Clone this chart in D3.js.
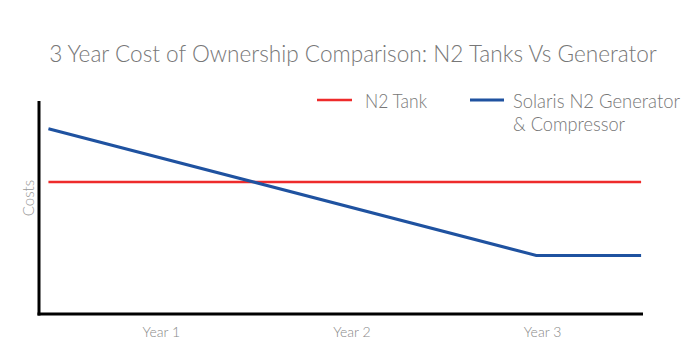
<!DOCTYPE html>
<html>
<head>
<meta charset="utf-8">
<script src="https://cdn.jsdelivr.net/npm/d3@7"></script>
<style>
  body { margin: 0; background: #fff; }
  text { font-family: Lato, "Open Sans", sans-serif; font-weight: 300; }
</style>
</head>
<body>
<svg id="chart" width="700" height="361"></svg>
<script>
// ---- data ----
const yearLabels = ["Year 1", "Year 2", "Year 3"];
const yearTicks = [1, 2, 3];
const tankX = [0.41, 3.52];
const tankCost = [62, 62];
const generatorX = [0.41, 2.97, 3.52];
const generatorCost = [87, 27.5, 27.5];
const seriesNames = ["N2 Tank", "Solaris N2 Generator", "& Compressor"];
const titleText = "3 Year Cost of Ownership Comparison: N2 Tanks Vs Generator";
const yLabel = "Costs";

// ---- layout ----
const svg = d3.select("#chart");
const x = d3.scaleLinear().domain([0.35, 3.53]).range([37, 643]);
const y = d3.scaleLinear().domain([0, 100]).range([314, 101]);

// title (font size fitted to the reference width)
const title = svg.append("text")
  .attr("x", 353).attr("y", 62)
  .attr("text-anchor", "middle")
  .attr("font-size", 25)
  .attr("fill", "#777")
  .text(titleText);
const tw = title.node().getComputedTextLength();
if (tw > 0) title.attr("font-size", Math.min(27, 25 * 608 / tw));

// axes lines
svg.append("line")
  .attr("x1", 39).attr("x2", 39)
  .attr("y1", y(100)).attr("y2", y(0) + 1.5)
  .attr("stroke", "#000").attr("stroke-width", 3);
svg.append("line")
  .attr("x1", 37.5).attr("x2", x(3.53))
  .attr("y1", y(0)).attr("y2", y(0))
  .attr("stroke", "#000").attr("stroke-width", 3);

// x axis labels
const xAxis = d3.axisBottom(x)
  .tickValues(yearTicks)
  .tickSize(0)
  .tickPadding(0)
  .tickFormat((d, i) => yearLabels[i]);
const gx = svg.append("g").attr("transform", `translate(0, ${y(0) + 13})`).call(xAxis);
gx.select(".domain").remove();
gx.selectAll("text")
  .attr("font-size", 14)
  .attr("fill", "#888")
  .attr("font-family", "Lato, sans-serif")
  .style("font-weight", 300);

// y label
svg.append("text")
  .attr("transform", "translate(34, 198) rotate(-90)")
  .attr("text-anchor", "middle")
  .attr("font-size", 15)
  .attr("fill", "#999")
  .text(yLabel);

// lines
const line = d3.line().x(d => x(d[0])).y(d => y(d[1]));
svg.append("path")
  .datum(tankX.map((v, i) => [v, tankCost[i]]))
  .attr("d", line)
  .attr("fill", "none")
  .attr("stroke", "#ee2b2b")
  .attr("stroke-width", 2.5);
svg.append("path")
  .datum(generatorX.map((v, i) => [v, generatorCost[i]]))
  .attr("d", line)
  .attr("fill", "none")
  .attr("stroke", "#1f52a0")
  .attr("stroke-width", 3);

// legend
svg.append("line")
  .attr("x1", 317).attr("x2", 352).attr("y1", 100).attr("y2", 100)
  .attr("stroke", "#ee2b2b").attr("stroke-width", 2.5);
svg.append("text")
  .attr("x", 365).attr("y", 108)
  .attr("font-size", 20).attr("fill", "#777")
  .attr("textLength", 62).attr("lengthAdjust", "spacingAndGlyphs")
  .text(seriesNames[0]);
svg.append("line")
  .attr("x1", 470).attr("x2", 504).attr("y1", 100).attr("y2", 100)
  .attr("stroke", "#1f52a0").attr("stroke-width", 3);
svg.append("text")
  .attr("x", 513).attr("y", 108)
  .attr("font-size", 20).attr("fill", "#777")
  .attr("textLength", 167).attr("lengthAdjust", "spacingAndGlyphs")
  .text(seriesNames[1]);
svg.append("text")
  .attr("x", 513).attr("y", 131)
  .attr("font-size", 20).attr("fill", "#777")
  .attr("textLength", 112).attr("lengthAdjust", "spacingAndGlyphs")
  .text(seriesNames[2]);
</script>
</body>
</html>
